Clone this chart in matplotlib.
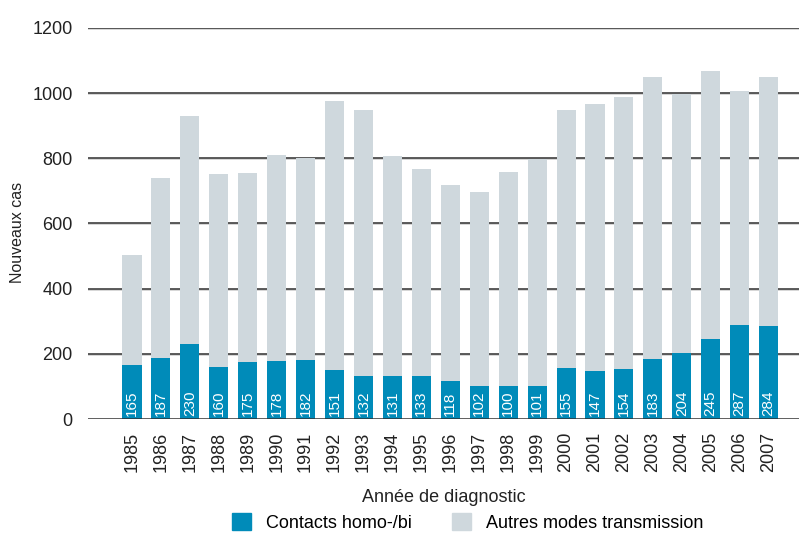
import matplotlib.pyplot as plt
from matplotlib.patches import Patch

# data
years = [str(y) for y in range(1985, 2008)]
homo_bi = [165, 187, 230, 160, 175, 178, 182, 151, 132, 131, 133, 118, 102, 100, 101,
           155, 147, 154, 183, 204, 245, 287, 284]
totals = [503, 739, 929, 751, 755, 810, 801, 975, 948, 807, 767, 718, 696, 758, 798,
          948, 966, 988, 1049, 997, 1067, 1006, 1049]
autres = [t - h for t, h in zip(totals, homo_bi)]

blue = '#008bb9'
grey = '#cfd8dd'

plt.rcParams['font.family'] = ['Liberation Sans', 'DejaVu Sans']

fig = plt.figure(figsize=(7.99, 5.34), dpi=100)
ax = fig.add_axes([88/799, 1 - 419/534, 1 - 88/799, (419 - 28)/534])

x = range(len(years))
ax.bar(x, homo_bi, width=0.66, color=blue, zorder=3)
ax.bar(x, autres, bottom=homo_bi, width=0.66, color=grey, zorder=3)

# value labels inside the blue bars
for i, v in enumerate(homo_bi):
    ax.text(i, 8, str(v), rotation=90, color='white', ha='center', va='bottom',
            fontsize=11, zorder=4)

# gridlines with light shadow
for yv in range(200, 1400, 200):
    ax.axhline(yv - 3, color='#d0d0d0', lw=1.2, zorder=1)
    ax.axhline(yv, color='#404040', lw=1.2, zorder=2)
ax.axhline(0, color='#303030', lw=1.8, zorder=5)

ax.set_xlim(-1.52, 23.05)
ax.set_ylim(0, 1200)
ax.set_yticks(range(0, 1400, 200))
ax.set_yticklabels([str(v) for v in range(0, 1400, 200)], fontsize=13, color='#222222')
ax.set_xticks(list(x))
ax.set_xticklabels(years, rotation=90, fontsize=13, color='#222222')
ax.tick_params(length=0)
ax.tick_params(axis='y', pad=11)
ax.tick_params(axis='x', pad=9)
for s in ax.spines.values():
    s.set_visible(False)

fig.text(18/799, 1 - 232/534, 'Nouveaux cas', rotation=90, fontsize=11.5,
         color='#222222', ha='center', va='center')
ax.set_xlabel('Année de diagnostic', fontsize=13, color='#222222', labelpad=12)

handles = [Patch(color=blue, label='Contacts homo-/bi'),
           Patch(color=grey, label='Autres modes transmission')]
fig.legend(handles=handles, loc='center', bbox_to_anchor=(0.585, 0.022), ncol=2,
           frameon=False, fontsize=13, handlelength=1.1, handleheight=1.1,
           columnspacing=2.2, handletextpad=0.8)

fig.savefig('out.png', dpi=100)
